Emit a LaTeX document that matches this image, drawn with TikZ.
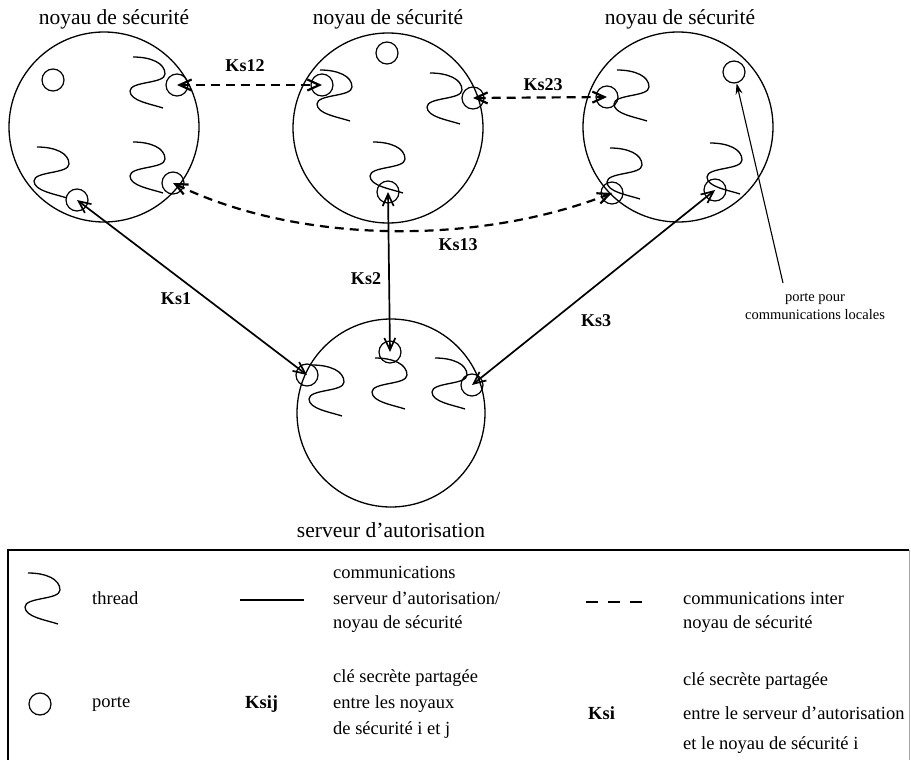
\documentclass[tikz,border=0pt]{standalone}
\usepackage{fontspec}
\setmainfont{Liberation Serif}
\usetikzlibrary{arrows.meta}
\begin{document}
\begin{tikzpicture}[x=1pt,y=-1pt,
  core/.style={draw, circle, line width=1.3pt, minimum size=190pt, inner sep=0pt},
  port/.style={draw, circle, line width=1.2pt, minimum size=22pt, inner sep=0pt},
  title/.style={font=\fontsize{21.5}{24}\selectfont},
  key/.style={font=\fontsize{18}{20}\selectfont\bfseries},
  note/.style={font=\fontsize{14.5}{18}\selectfont, align=center},
  legtext/.style={font=\fontsize{18.5}{20}\selectfont, anchor=west, inner sep=0pt},
  legkey/.style={legtext, font=\fontsize{18.5}{20}\selectfont\bfseries},
  barb/.tip={Straight Barb[length=12pt,width=11pt]},
  link/.style={line width=1.7pt, barb-barb},
  peer/.style={barb-barb, line width=2.2pt, dash pattern=on 9pt off 6pt},
  thread/.pic={\draw[line width=1.3pt] (0,0) .. controls (18,0) and (32,6) .. (32,17)
      .. controls (32,27) and (-3,24) .. (-3,34) .. controls (-3,44) and (18,47) .. (30,51);}
]
\useasboundingbox (0,0) rectangle (911,760);

% security kernels and authorisation server
\node[core] (c1) at (104,127) {};
\node[core] (c2) at (388,128) {};
\node[core] (c3) at (678,127) {};
\node[core, minimum size=188pt] (c4) at (391,413) {};

\node[title] (t1) at (114,19) {noyau de sécurité};
\node[title] (t2) at (388,19) {noyau de sécurité};
\node[title] (t3) at (680,19) {noyau de sécurité};
\node[title] (t4) at (391,530) {serveur d’autorisation};

% threads
\pic at (133,57) {thread};
\pic at (37,147) {thread};
\pic at (133,142) {thread};
\pic at (320,70) {thread};
\pic at (430,73) {thread};
\pic at (373,142) {thread};
\pic at (617,70) {thread};
\pic at (610,148) {thread};
\pic at (710,143) {thread};
\pic at (312,365) {thread};
\pic at (375,358) {thread};
\pic at (435,358) {thread};

% ports
\node[port] (p1free) at (53,80) {};
\node[port] (p1a) at (177,85) {};
\node[port] (p1c) at (173,183) {};
\node[port] (p1b) at (77,200) {};
\node[port] (p2free) at (387,53) {};
\node[port] (p2a) at (322,85) {};
\node[port] (p2b) at (473,98) {};
\node[port] (p2c) at (388,192) {};
\node[port] (p3free) at (734,72) {};
\node[port] (p3a) at (607,97) {};
\node[port] (p3b) at (612,193) {};
\node[port] (p3c) at (715,190) {};
\node[port] (p4b) at (390,352) {};
\node[port] (p4a) at (307,375) {};
\node[port] (p4c) at (472,385) {};

% kernel to kernel links
\draw[peer] (p1a.center) -- (p2a.center);
\draw[peer] (p2b.center) -- (p3a.center);
\draw[peer] (p1c.center) .. controls (300,245) and (480,245) .. (p3b.center);
\node[key] (k12) at (245,66) {Ks12};
\node[key] (k23) at (543,85) {Ks23};
\node[key] (k13) at (458,245) {Ks13};

% server to kernel links
\draw[link] (p1b.center) -- (p4a.center);
\draw[link] (p2c.center) -- (p4b.center);
\draw[link] (p3c.center) -- (p4c.center);
\node[key] (k1) at (176,299) {Ks1};
\node[key] (k2) at (366,279) {Ks2};
\node[key] (k3) at (596,321) {Ks3};

% local port note
\node[note] (local) at (815,306) {porte pour\\communications locales};
\coordinate (localtail) at (783,283);
\draw[line width=1.1pt, -{Stealth[length=11pt,width=7pt]}] (localtail) -- (p3free);

% legend frame
\draw[line width=1.4pt] (8,775) -- (8,550) -- (909,550);
\draw[line width=0.6pt, black!35] (909,550) -- (909,775);

% legend, first row
\pic at (28,573) {thread};
\node[legtext] (lthread) at (92,598) {thread};
\coordinate (sa) at (240,600);
\coordinate (sb) at (304,600);
\draw[line width=1.6pt] (sa) -- (sb);
\node[legtext] (m1) at (333,572) {communications};
\node[legtext] (m2) at (333,598) {serveur d’autorisation/};
\node[legtext] (m3) at (333,624) {noyau de sécurité};
\coordinate (da) at (586,602);
\coordinate (db) at (642,602);
\draw[line width=2.2pt, dash pattern=on 12pt off 10pt] (da) -- (db);
\node[legtext] (r1) at (683,598) {communications inter};
\node[legtext] (r2) at (683,624) {noyau de sécurité};

% legend, second row
\node[port] (lport) at (40,704) {};
\node[legtext] (lporte) at (92,704) {porte};
\node[legkey] (lksij) at (245,704) {Ksij};
\node[legtext] (m4) at (333,678) {clé secrète partagée};
\node[legtext] (m5) at (333,704) {entre les noyaux};
\node[legtext] (m6) at (333,730) {de sécurité i et j};
\node[legkey] (lksi) at (588,713) {Ksi};
\node[legtext] (r4) at (683,681) {clé secrète partagée};
\node[legtext] (r5) at (683,713) {entre le serveur d’autorisation};
\node[legtext] (r6) at (683,745) {et le noyau de sécurité i};
\end{tikzpicture}
\end{document}
